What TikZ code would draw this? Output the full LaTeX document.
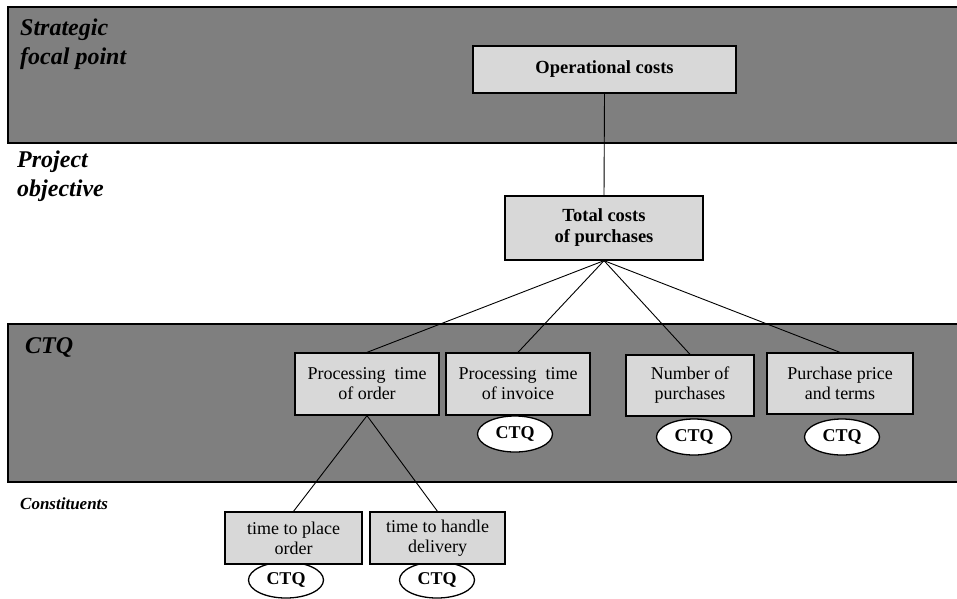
\documentclass[tikz,border=0pt]{standalone}
\usepackage{fontspec}
\setmainfont{Liberation Serif}
\usetikzlibrary{shapes.geometric}
\definecolor{bandgray}{HTML}{7F7F7F}
\definecolor{boxgray}{HTML}{D8D8D8}
\tikzset{
  band/.style={fill=bandgray,draw=black,line width=2.6pt},
  box/.style={draw=black,fill=boxgray,line width=1.3pt,align=center,inner sep=2pt},
  boldbox/.style={box,font=\bfseries\fontsize{18.5}{21}\selectfont},
  plainbox/.style={box,font=\fontsize{18}{20}\selectfont},
  ctq/.style={ellipse,draw=black,fill=white,line width=1.3pt,inner sep=0pt,
    minimum width=75pt,minimum height=36pt,font=\bfseries\fontsize{18}{20}\selectfont},
  level/.style={anchor=north west,inner sep=0pt,align=left,
    font=\bfseries\itshape\fontsize{24}{29}\selectfont},
  link/.style={draw=black,line width=0.9pt}
}
\begin{document}
\begin{tikzpicture}[x=1pt,y=-1pt]
\useasboundingbox (0,0) rectangle (957,598);
\clip (0,0) rectangle (957,598);

% horizontal bands for the levels
\draw[band] (8,7) rectangle (970,143);
\draw[band] (8,324) rectangle (970,482);

% level labels
\node[level] (lstrat) at (20,19) {Strategic\\focal point};
\node[level] (lproj) at (17,151) {Project\\objective};
\node[level] (lctq) at (25,337) {CTQ};
\node[level,font=\bfseries\itshape\fontsize{17}{20}\selectfont] (lcons) at (20,497) {Constituents};

% CTQ markers (drawn first so the boxes sit on top)
\node[ctq] (c1) at (515,434) {CTQ};
\node[ctq] (c2) at (694,437) {CTQ};
\node[ctq] (c3) at (842,437) {CTQ};
\node[ctq] (c4) at (286,580) {CTQ};
\node[ctq] (c5) at (437,580) {CTQ};

% boxes
\node[boldbox,minimum width=263pt,minimum height=47pt] (opc) at (604.5,69.5) {Operational costs};
\node[boldbox,minimum width=198pt,minimum height=64pt] (tcp) at (604,228) {Total costs\\of purchases};
\node[plainbox,minimum width=144pt,minimum height=62pt] (pto) at (367,384) {Processing\ \ time\\of order};
\node[plainbox,minimum width=144pt,minimum height=62pt] (pti) at (518,384) {Processing\ \ time\\of invoice};
\node[plainbox,minimum width=128pt,minimum height=61pt] (nop) at (690,385.5) {Number of\\purchases};
\node[plainbox,minimum width=146pt,minimum height=61pt] (ppt) at (840,383.5) {Purchase price\\and terms};
\node[plainbox,minimum width=137pt,minimum height=52pt] (tpo) at (293.5,538) {time to place\\order};
\node[plainbox,minimum width=135pt,minimum height=52pt] (thd) at (437.5,538) {time to handle\\delivery};

% connectors
\draw[link] (opc.south) -- (tcp.north);
\draw[link] (tcp.south) -- (pto.north);
\draw[link] (tcp.south) -- (pti.north);
\draw[link] (tcp.south) -- (nop.north);
\draw[link] (tcp.south) -- (ppt.north);
\draw[link] (pto.south) -- (tpo.north);
\draw[link] (pto.south) -- (thd.north);
\end{tikzpicture}
\end{document}
